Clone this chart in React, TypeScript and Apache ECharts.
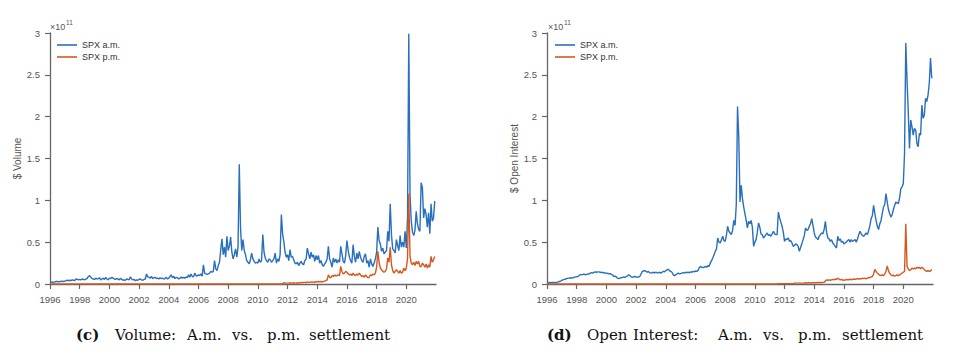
import React, { useEffect, useRef } from "react";
import * as echarts from "echarts";

const START_YEAR = 1996;
const YEAR_TICKS = [1996, 1998, 2000, 2002, 2004, 2006, 2008, 2010, 2012, 2014, 2016, 2018, 2020];
const Y_TICKS_LABELS = ["0", "0.5", "1", "1.5", "2", "2.5", "3"];

// monthly values, Jan 1996 .. Dec 2021, in units of 1e10 dollars
const VOL_AM = [
  0.2, 0.2, 0.25, 0.2, 0.25, 0.3, 0.3, 0.25, 0.3, 0.3, 0.35, 0.3, // 1996
  0.35, 0.4, 0.45, 0.4, 0.45, 0.4, 0.5, 0.45, 0.4, 0.6, 0.55, 0.5, // 1997
  0.55, 0.5, 0.6, 0.55, 0.5, 0.6, 0.65, 0.9, 1.0, 0.8, 0.65, 0.6, // 1998
  0.55, 0.7, 0.6, 0.65, 0.75, 0.5, 0.6, 0.7, 0.55, 0.8, 0.6, 0.5, // 1999
  0.7, 0.65, 0.8, 0.7, 0.6, 0.55, 0.65, 0.6, 0.5, 0.7, 0.55, 0.45, // 2000
  0.5, 0.45, 0.6, 0.55, 0.5, 0.85, 0.6, 0.5, 0.55, 0.4, 0.5, 0.45, // 2001
  0.55, 0.6, 0.5, 0.45, 0.55, 0.6, 1.2, 0.85, 0.8, 0.7, 0.9, 0.65, // 2002
  0.75, 0.8, 0.65, 0.7, 0.6, 0.75, 0.65, 0.7, 0.6, 0.65, 0.8, 0.6, // 2003
  0.7, 0.9, 1.1, 0.75, 0.9, 0.65, 0.8, 0.75, 0.6, 0.7, 0.85, 0.7, // 2004
  0.8, 0.7, 0.85, 0.75, 1.1, 0.8, 1.2, 0.9, 0.85, 1.3, 1.0, 0.95, // 2005
  1.1, 1.0, 1.2, 0.95, 2.3, 1.3, 1.2, 1.15, 1.2, 1.3, 1.5, 1.4, // 2006
  1.5, 2.8, 1.8, 1.6, 2.2, 2.6, 4.1, 5.4, 3.5, 4.4, 3.2, 5.7, // 2007
  4.0, 4.5, 5.6, 3.8, 3.0, 3.5, 4.2, 3.2, 4.5, 14.3, 6.7, 4.0, // 2008
  5.3, 4.0, 3.5, 2.8, 2.6, 2.4, 2.9, 3.7, 3.0, 2.7, 2.5, 2.6, // 2009
  2.5, 3.0, 2.6, 2.8, 5.9, 3.8, 3.1, 2.8, 2.6, 3.0, 2.9, 2.6, // 2010
  2.8, 3.0, 3.7, 2.5, 3.0, 2.7, 3.5, 8.3, 6.0, 5.1, 3.8, 3.2, // 2011
  3.5, 2.8, 4.1, 3.2, 3.3, 2.9, 2.5, 2.4, 2.6, 2.2, 2.5, 2.7, // 2012
  2.4, 2.3, 2.8, 3.0, 4.3, 3.6, 3.0, 3.8, 3.2, 3.5, 2.7, 3.4, // 2013
  2.9, 3.4, 2.5, 2.8, 2.3, 2.1, 2.4, 2.6, 3.0, 4.5, 3.0, 2.6, // 2014
  2.0, 3.1, 2.6, 3.0, 2.5, 2.9, 2.6, 4.5, 3.6, 2.7, 2.5, 3.4, // 2015
  5.2, 4.0, 3.2, 2.8, 2.5, 4.7, 3.3, 2.6, 3.7, 3.0, 3.9, 3.2, // 2016
  2.8, 2.6, 3.3, 3.6, 2.5, 2.8, 2.0, 3.0, 2.4, 2.1, 2.5, 3.0, // 2017
  3.8, 6.8, 5.2, 4.8, 3.9, 4.3, 3.6, 3.8, 4.0, 6.3, 5.1, 9.6, // 2018
  5.9, 4.2, 4.0, 3.7, 5.3, 4.6, 4.0, 5.8, 4.4, 5.0, 4.4, 6.3, // 2019
  4.3, 8.0, 29.9, 10.7, 7.5, 6.2, 5.8, 6.4, 8.7, 7.2, 6.5, 6.3, // 2020
  12.1, 11.5, 7.9, 9.0, 8.3, 6.8, 8.5, 6.0, 9.6, 7.5, 7.9, 9.9, // 2021
];

const VOL_PM = [
  0, 0, 0, 0, 0, 0, 0, 0, 0, 0, 0, 0, // 1996
  0, 0, 0, 0, 0, 0, 0, 0, 0, 0, 0, 0, // 1997
  0, 0, 0, 0, 0, 0, 0, 0, 0, 0, 0, 0, // 1998
  0, 0, 0, 0, 0, 0, 0, 0, 0, 0, 0, 0, // 1999
  0, 0, 0, 0, 0, 0, 0, 0, 0, 0, 0, 0, // 2000
  0, 0, 0, 0, 0, 0, 0, 0, 0, 0, 0, 0, // 2001
  0, 0, 0, 0, 0, 0, 0, 0, 0, 0, 0, 0, // 2002
  0, 0, 0, 0, 0, 0, 0, 0, 0, 0, 0, 0, // 2003
  0, 0, 0, 0, 0, 0, 0, 0, 0, 0, 0, 0, // 2004
  0, 0, 0, 0, 0, 0, 0, 0, 0, 0, 0, 0, // 2005
  0, 0, 0, 0, 0, 0, 0, 0, 0, 0, 0, 0, // 2006
  0, 0, 0, 0, 0, 0, 0, 0, 0, 0, 0, 0, // 2007
  0, 0, 0, 0, 0, 0, 0, 0, 0, 0, 0, 0, // 2008
  0, 0, 0, 0, 0, 0, 0, 0, 0, 0, 0, 0, // 2009
  0, 0, 0, 0, 0, 0, 0, 0, 0, 0, 0, 0, // 2010
  0, 0, 0, 0, 0, 0, 0, 0, 0.05, 0.15, 0.1, 0.1, // 2011
  0.1, 0.1, 0.15, 0.1, 0.1, 0.15, 0.1, 0.1, 0.15, 0.1, 0.15, 0.2, // 2012
  0.15, 0.2, 0.2, 0.15, 0.25, 0.2, 0.2, 0.25, 0.2, 0.25, 0.2, 0.3, // 2013
  0.25, 0.3, 0.25, 0.3, 0.25, 0.3, 0.35, 0.4, 0.5, 1.1, 0.8, 0.75, // 2014
  1.0, 0.9, 1.1, 0.95, 1.0, 1.1, 1.0, 2.1, 1.5, 1.2, 1.3, 1.5, // 2015
  1.4, 1.2, 1.1, 1.2, 1.0, 1.3, 1.1, 1.0, 1.2, 1.05, 1.3, 1.1, // 2016
  0.9, 1.0, 0.8, 1.1, 0.9, 0.75, 0.8, 1.1, 1.0, 1.2, 1.1, 1.3, // 2017
  2.0, 3.9, 2.6, 1.9, 1.7, 1.5, 1.4, 1.5, 1.8, 3.1, 2.6, 4.4, // 2018
  2.3, 1.6, 1.3, 1.5, 1.7, 1.5, 1.3, 1.6, 1.3, 1.4, 1.9, 1.6, // 2019
  1.9, 3.1, 10.8, 3.3, 2.5, 2.3, 2.6, 2.2, 2.7, 2.4, 2.7, 2.1, // 2020
  2.1, 2.5, 2.3, 2.0, 2.4, 1.9, 2.3, 2.0, 3.3, 2.6, 2.9, 3.3, // 2021
];

const OI_AM = [
  0.15, 0.15, 0.2, 0.15, 0.2, 0.2, 0.2, 0.15, 0.2, 0.25, 0.3, 0.35, // 1996
  0.45, 0.5, 0.55, 0.6, 0.65, 0.7, 0.7, 0.75, 0.7, 0.75, 0.8, 0.85, // 1997
  0.85, 0.9, 1.0, 1.15, 1.1, 1.15, 1.2, 1.1, 1.15, 1.2, 1.2, 1.3, // 1998
  1.35, 1.3, 1.4, 1.45, 1.4, 1.45, 1.45, 1.4, 1.35, 1.4, 1.3, 1.35, // 1999
  1.25, 1.3, 1.2, 1.25, 1.15, 1.1, 0.9, 0.95, 0.85, 0.7, 0.65, 0.7, // 2000
  0.75, 0.8, 0.85, 0.8, 0.9, 0.95, 1.1, 1.0, 0.85, 0.8, 0.85, 0.9, // 2001
  0.85, 0.8, 0.85, 0.9, 1.2, 1.5, 1.55, 1.6, 1.5, 1.4, 1.5, 1.35, // 2002
  1.3, 1.35, 1.4, 1.3, 1.45, 1.3, 1.35, 1.4, 1.3, 1.4, 1.5, 1.45, // 2003
  1.6, 1.7, 1.75, 1.6, 1.5, 1.4, 1.1, 1.0, 1.1, 1.2, 1.3, 1.2, // 2004
  1.25, 1.3, 1.35, 1.3, 1.4, 1.35, 1.4, 1.35, 1.45, 1.4, 1.5, 1.45, // 2005
  1.55, 1.5, 1.6, 1.95, 2.1, 2.0, 1.95, 2.0, 2.1, 2.0, 2.2, 2.1, // 2006
  2.5, 2.8, 3.1, 3.5, 3.9, 4.2, 5.5, 5.0, 4.9, 5.3, 5.7, 5.2, // 2007
  5.1, 5.8, 6.9, 6.3, 6.1, 5.9, 6.4, 7.6, 7.0, 9.5, 21.2, 17.6, // 2008
  9.8, 11.8, 10.2, 9.2, 8.4, 7.6, 6.7, 7.5, 7.2, 7.6, 6.8, 4.5, // 2009
  5.0, 5.3, 6.2, 7.3, 6.8, 6.0, 5.9, 5.5, 5.7, 5.9, 6.1, 5.8, // 2010
  5.9, 5.7, 6.0, 6.3, 6.0, 5.9, 5.9, 8.6, 7.9, 7.4, 6.9, 6.2, // 2011
  5.1, 5.4, 5.3, 5.5, 5.1, 5.2, 4.9, 4.5, 4.6, 4.8, 4.7, 4.5, // 2012
  3.9, 4.4, 4.8, 5.3, 5.8, 6.7, 6.4, 6.5, 6.9, 7.2, 7.8, 7.0, // 2013
  6.1, 5.6, 5.5, 5.3, 5.7, 5.9, 6.1, 6.0, 6.5, 7.5, 6.2, 5.5, // 2014
  5.4, 5.1, 5.3, 4.9, 4.7, 4.5, 4.3, 5.7, 5.2, 5.4, 5.0, 5.1, // 2015
  4.8, 4.9, 5.0, 5.2, 5.3, 5.0, 5.3, 5.1, 5.2, 5.3, 5.0, 5.4, // 2016
  5.9, 6.3, 6.0, 5.8, 5.7, 5.9, 6.1, 5.9, 6.4, 7.0, 7.8, 8.2, // 2017
  9.4, 8.4, 7.6, 6.9, 6.5, 7.2, 7.6, 8.4, 9.2, 9.5, 10.8, 9.8, // 2018
  8.9, 8.4, 8.0, 8.3, 8.9, 9.4, 9.8, 9.7, 9.6, 10.3, 11.4, 11.6, // 2019
  12.0, 15.6, 28.8, 24.4, 20.6, 16.2, 19.6, 18.8, 17.8, 18.6, 18.4, 16.8, // 2020
  16.4, 18.0, 17.8, 21.4, 19.8, 20.2, 22.2, 21.8, 22.6, 24.0, 27.0, 24.6, // 2021
];

const OI_PM = [
  0, 0, 0, 0, 0, 0, 0, 0, 0, 0, 0, 0, // 1996
  0, 0, 0, 0, 0, 0, 0, 0, 0, 0, 0, 0, // 1997
  0, 0, 0, 0, 0, 0, 0, 0, 0, 0, 0, 0, // 1998
  0, 0, 0, 0, 0, 0, 0, 0, 0, 0, 0, 0, // 1999
  0, 0, 0, 0, 0, 0, 0, 0, 0, 0, 0, 0, // 2000
  0, 0, 0, 0, 0, 0, 0, 0, 0, 0, 0, 0, // 2001
  0, 0, 0, 0, 0, 0, 0, 0, 0, 0, 0, 0, // 2002
  0, 0, 0, 0, 0, 0, 0, 0, 0, 0, 0, 0, // 2003
  0, 0, 0, 0, 0, 0, 0, 0, 0, 0, 0, 0, // 2004
  0, 0, 0, 0, 0, 0, 0, 0, 0, 0, 0, 0, // 2005
  0, 0, 0, 0, 0, 0, 0, 0, 0, 0, 0, 0, // 2006
  0, 0, 0, 0, 0, 0, 0, 0, 0, 0, 0, 0, // 2007
  0, 0, 0, 0, 0, 0, 0, 0, 0, 0, 0, 0, // 2008
  0, 0, 0, 0, 0, 0, 0, 0, 0, 0, 0, 0, // 2009
  0, 0, 0, 0, 0, 0, 0, 0, 0, 0, 0, 0, // 2010
  0, 0, 0, 0, 0, 0, 0, 0.05, 0.05, 0.05, 0.05, 0.05, // 2011
  0.05, 0.05, 0.05, 0.05, 0.05, 0.05, 0.05, 0.05, 0.1, 0.1, 0.1, 0.1, // 2012
  0.1, 0.1, 0.1, 0.1, 0.1, 0.15, 0.1, 0.15, 0.15, 0.1, 0.15, 0.15, // 2013
  0.15, 0.15, 0.15, 0.2, 0.15, 0.2, 0.15, 0.2, 0.2, 0.35, 0.5, 0.45, // 2014
  0.5, 0.45, 0.5, 0.55, 0.5, 0.6, 0.55, 0.7, 0.6, 0.5, 0.55, 0.45, // 2015
  0.5, 0.45, 0.55, 0.5, 0.5, 0.6, 0.5, 0.55, 0.6, 0.55, 0.6, 0.65, // 2016
  0.6, 0.65, 0.6, 0.7, 0.65, 0.7, 0.6, 0.7, 0.8, 0.75, 0.85, 0.9, // 2017
  1.2, 1.75, 1.5, 1.3, 1.15, 1.05, 1.0, 1.1, 1.0, 1.2, 1.5, 2.15, // 2018
  1.6, 1.25, 1.1, 1.0, 1.05, 0.95, 1.0, 1.1, 1.0, 1.1, 1.2, 1.3, // 2019
  1.4, 1.5, 7.2, 2.1, 1.8, 1.6, 1.7, 1.9, 1.8, 1.9, 1.8, 2.0, // 2020
  1.9, 2.0, 1.8, 2.0, 1.9, 1.7, 1.6, 1.5, 1.6, 1.5, 1.55, 1.75, // 2021
];

const SERIES_NAMES = ["SPX a.m.", "SPX p.m."];
const COLORS = ["#2a6fbd", "#d6581f"];
const Y_NAMES = ["$ Volume", "$ Open Interest"];

const toPoints = (arr: number[]) => arr.map((v, i) => [START_YEAR + i / 12, v]);

const AXIS_COLOR = "#666";
const LABEL_COLOR = "#555";
const SANS = "Liberation Sans, Arial, sans-serif";

export default function App() {
  const ref = useRef<HTMLDivElement>(null);
  useEffect(() => {
    if (!ref.current) return;
    const chart = echarts.init(ref.current, null, { renderer: "svg" });
    const grids = [
      { left: 50, top: 33, width: 386, height: 251 },
      { left: 547, top: 33, width: 386, height: 251 },
    ];
    const xAxes = grids.map((_, gi) => ({
      type: "value",
      gridIndex: gi,
      min: 1996,
      max: 2022,
      interval: 2,
      splitLine: { show: false },
      axisLine: { lineStyle: { color: AXIS_COLOR, width: 1.3 } },
      axisTick: { inside: false, length: 5, customValues: YEAR_TICKS, lineStyle: { color: AXIS_COLOR, width: 1.2 } },
      axisLabel: {
        customValues: YEAR_TICKS,
        color: LABEL_COLOR,
        fontSize: 9.5,
        fontFamily: SANS,
        margin: 10,
        formatter: (v: number) => String(v),
      },
    }));
    const yAxes = grids.map((_, gi) => ({
      type: "value",
      gridIndex: gi,
      min: 0,
      max: 30,
      interval: 5,
      name: Y_NAMES[gi],
      nameLocation: "middle",
      nameGap: 27,
      nameTextStyle: { color: LABEL_COLOR, fontSize: 10, fontFamily: SANS },
      splitLine: { show: false },
      axisLine: { show: true, lineStyle: { color: AXIS_COLOR, width: 1.3 } },
      axisTick: { show: true, inside: false, length: 5, lineStyle: { color: AXIS_COLOR, width: 1.2 } },
      axisLabel: {
        color: LABEL_COLOR,
        fontSize: 9.5,
        fontFamily: SANS,
        margin: 10,
        formatter: (v: number) => Y_TICKS_LABELS[Math.round(v / 5)] ?? "",
      },
    }));
    const seriesData = [
      [VOL_AM, VOL_PM],
      [OI_AM, OI_PM],
    ];
    const series: any[] = [];
    seriesData.forEach((pair, gi) => {
      pair.forEach((arr, si) => {
        series.push({
          type: "line",
          name: SERIES_NAMES[si],
          xAxisIndex: gi,
          yAxisIndex: gi,
          data: toPoints(arr),
          showSymbol: false,
          symbol: "none",
          lineStyle: { color: COLORS[si], width: 1.4 },
          itemStyle: { color: COLORS[si] },
          z: si === 0 ? 3 : 4,
        });
      });
    });
    const legendBase = {
      orient: "vertical",
      top: 40,
      padding: 0,
      itemWidth: 20,
      itemHeight: 1.6,
      itemGap: 2,
      icon: "rect",
      selectedMode: false,
      textStyle: { fontSize: 9, color: "#333", lineHeight: 10, fontFamily: SANS },
      data: SERIES_NAMES,
    };
    const sci = (x: number) => [
      { type: "text", left: x, top: 22, style: { text: "\u00d710", fontSize: 9, fill: LABEL_COLOR, fontFamily: SANS } },
      { type: "text", left: x + 16, top: 19, style: { text: "11", fontSize: 6.5, fill: LABEL_COLOR, fontFamily: SANS } },
    ];
    const captionWords = [
      { t: "(c)", x: 76, bold: true },
      { t: "Volume:", x: 115 },
      { t: "A.m.", x: 187 },
      { t: "vs.", x: 232 },
      { t: "p.m.", x: 267 },
      { t: "settlement", x: 309 },
      { t: "(d)", x: 547, bold: true },
      { t: "Open", x: 587 },
      { t: "Interest:", x: 633 },
      { t: "A.m.", x: 718 },
      { t: "vs.", x: 763 },
      { t: "p.m.", x: 798 },
      { t: "settlement", x: 842 },
    ];
    const captions = captionWords.map((w) => ({
      type: "text",
      x: w.x,
      y: 335,
      style: {
        text: w.t,
        fontSize: 15,
        fontWeight: w.bold ? "bold" : "normal",
        fontFamily: "DejaVu Serif, serif",
        fill: "#111",
        align: "left",
        verticalAlign: "middle",
      },
    }));
    chart.setOption({
      animation: false,
      backgroundColor: "#fff",
      grid: grids,
      xAxis: xAxes,
      yAxis: yAxes,
      legend: [
        { ...legendBase, left: 57 },
        { ...legendBase, left: 555 },
      ],
      series,
      graphic: [...sci(50), ...sci(548), ...captions],
    });
    return () => chart.dispose();
  }, []);
  return <div ref={ref} style={{ position: "fixed", left: 0, top: 0, width: 969, height: 355 }} />;
}
